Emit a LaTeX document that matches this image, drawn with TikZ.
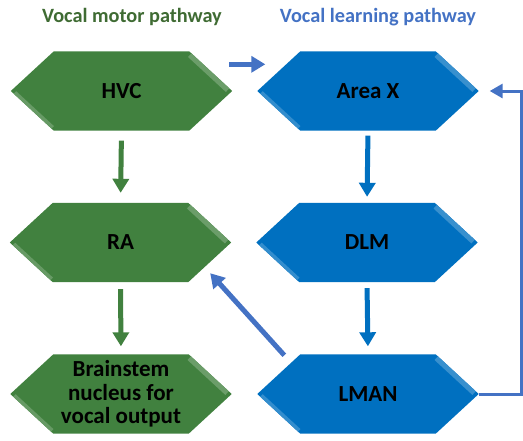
\documentclass[tikz,border=0pt]{standalone}
\usepackage{fontspec}
\setmainfont{Carlito}
\usetikzlibrary{arrows.meta,calc,backgrounds}
\definecolor{gfill}{HTML}{41813F}
\definecolor{bfill}{HTML}{0070C0}
\definecolor{barrow}{HTML}{4472C4}
\definecolor{gtitle}{HTML}{3F6B33}
\definecolor{btitle}{HTML}{4472C4}
\tikzset{
  region/.style={minimum width=221pt, minimum height=79pt, inner sep=0pt,
    font=\bfseries\fontsize{23}{23.5}\selectfont, align=center, text=black},
  title/.style={font=\bfseries\fontsize{20.3}{22}\selectfont},
  thickarrow/.style={line width=5pt, -{Triangle[width=16pt,length=14pt]}},
  feedarrow/.style={line width=3pt, -{Triangle[width=14pt,length=13pt]}},
}
\newcommand\hexfill[2]{%
  \begin{scope}[on background layer]
    \fill[#2] (#1.west) -- ($(#1.north west)+(43,0)$) -- ($(#1.north east)+(-43,0)$)
      -- (#1.east) -- ($(#1.south east)+(-43,0)$) -- ($(#1.south west)+(43,0)$) -- cycle;
    \begin{scope}
      \clip (#1.west) -- ($(#1.north west)+(43,0)$) -- ($(#1.north east)+(-43,0)$)
        -- (#1.east) -- ($(#1.south east)+(-43,0)$) -- ($(#1.south west)+(43,0)$) -- cycle;
      \draw[line width=10pt, #2!78!white, shorten <=3pt, shorten >=4pt]
        ($(#1.north east)+(-43,0)$) -- (#1.east);
      \draw[line width=7pt, #2!80!white, shorten <=4pt, shorten >=3pt]
        (#1.west) -- ($(#1.south west)+(43,0)$);
    \end{scope}
  \end{scope}}
\begin{document}
\begin{tikzpicture}[x=1pt,y=-1pt]
  \useasboundingbox (0,0) rectangle (523,440);
  \node[title, text=gtitle] (t1) at (132,17) {Vocal motor pathway};
  \node[title, text=btitle] (t2) at (378,17) {Vocal learning pathway};

  \node[region] (hvc) at (121.5,91) {HVC};
  \node[region] (ra) at (120.5,242.5) {RA};
  \node[region] (bs) at (121,394) {Brainstem\\nucleus for\\vocal output};
  \node[region] (ax) at (368,91) {Area X};
  \node[region] (dlm) at (367,242.5) {DLM};
  \node[region] (lman) at (368,394) {LMAN};
  \hexfill{hvc}{gfill}
  \hexfill{ra}{gfill}
  \hexfill{bs}{gfill}
  \hexfill{ax}{bfill}
  \hexfill{dlm}{bfill}
  \hexfill{lman}{bfill}

  \draw[thickarrow, gfill, shorten <=10pt, shorten >=10pt] (hvc.south) -- (ra.north);
  \draw[thickarrow, gfill, shorten <=7pt, shorten >=8pt] (ra.south) -- (bs.north);
  \draw[thickarrow, bfill, shorten <=5pt, shorten >=6pt] (ax.south) -- (dlm.north);
  \draw[thickarrow, bfill, shorten <=6pt, shorten >=8pt] (dlm.south) -- (lman.north);
  \draw[thickarrow, barrow] ($(hvc.north east)+(-3,13)$) -- ($(ax.north west)+(8,13)$);
  \draw[thickarrow, barrow] ($(lman.north west)+(27,1)$) -- ($(ra.south east)+(-21,-9)$);
  \draw[feedarrow, barrow, shorten >=11pt]
    (lman.east) -- (521,394) |- (ax.east);
\end{tikzpicture}
\end{document}
